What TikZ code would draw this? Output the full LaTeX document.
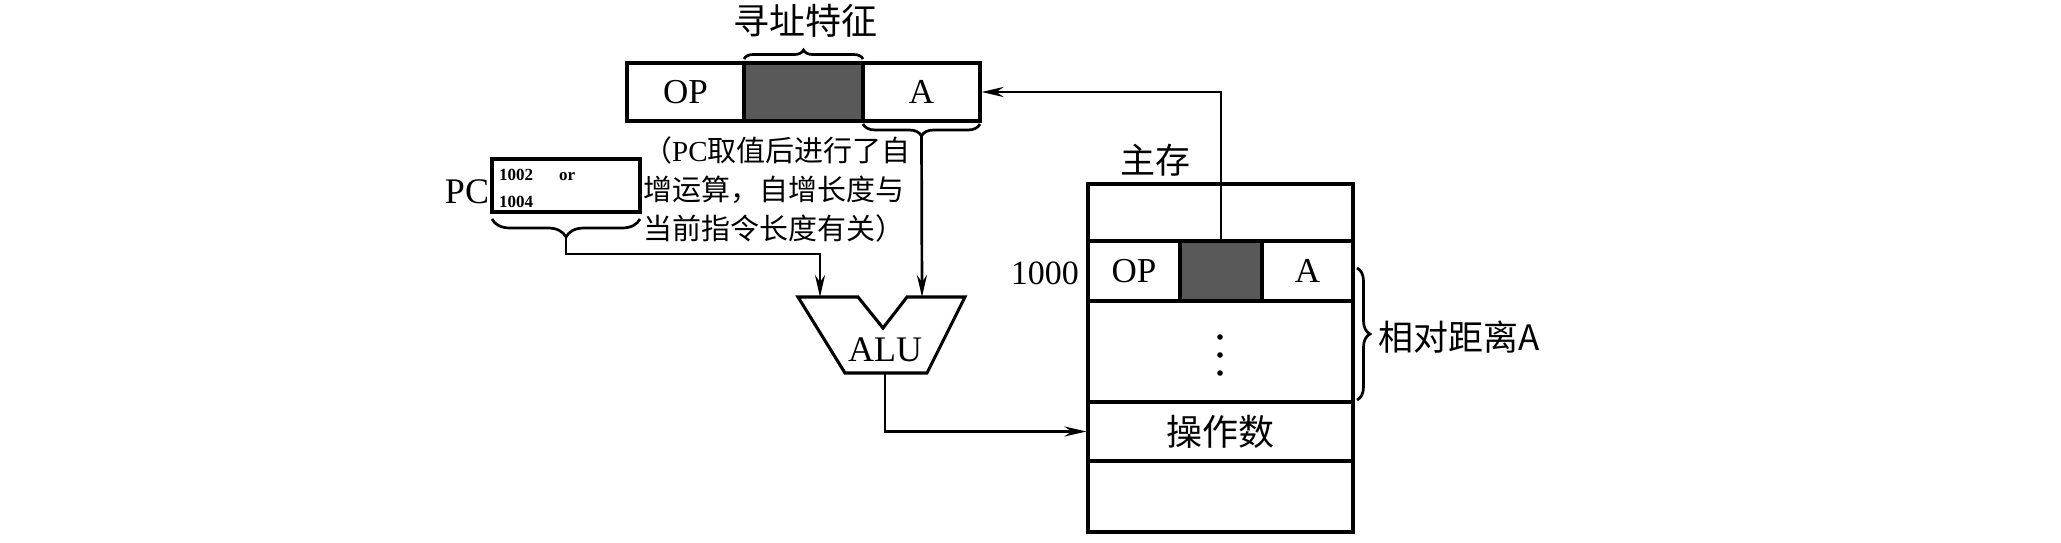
\documentclass[tikz,border=0pt]{standalone}
\usepackage{fontspec}
\setmainfont{Liberation Serif}
\newfontfamily\cjk{Noto Sans CJK SC}
\usetikzlibrary{arrows.meta,decorations.pathreplacing}
\newcommand{\myfs}[2]{\fontsize{#1}{#2}\selectfont}
\begin{document}
\begin{tikzpicture}[x=1pt,y=-1pt,
  box/.style={draw, line width=3.1pt, inner sep=0pt},
  dark/.style={box, fill=black!65},
  ln/.style={line width=2.7pt},
  arr/.style={line width=2.7pt, -{Stealth[length=22pt,width=10pt]}},
  brc/.style={decorate, decoration={brace, amplitude=#1}, line width=2.7pt},
  brc/.default=10pt,
  lbl/.style={inner sep=0pt}]
\useasboundingbox (0,0) rectangle (2061,542);

% instruction register
\node[box, minimum width=117pt, minimum height=58pt] (iop) at (685.5,92) {\myfs{35}{40}OP};
\node[dark, minimum width=119pt, minimum height=58pt] (iaddr) at (803.5,92) {};
\node[box, minimum width=117pt, minimum height=58pt] (iA) at (921.5,92) {\myfs{35}{40}A};
\node[lbl] (feat) at (805,21) {\cjk\myfs{36}{40}寻址特征};
\draw[brc=9pt] (744,59) -- (863,59);
\draw[brc=12pt] (980,124) -- (863,124);
\coordinate (tipA) at (921.5,136);

% PC
\node[box, minimum width=148pt, minimum height=53pt] (pc) at (566,185.5) {};
\node[lbl] (pclabel) at (467,192) {\myfs{36}{40}PC};
\node[lbl, anchor=north west, align=left, font=\bfseries\myfs{17}{27}] (pcval) at (499,169) {1002\hspace{26pt}or\\1004};
\draw[brc=18pt] (640,219) -- (492,219);
\coordinate (tipPC) at (566,237);
\coordinate (pcbend) at (820,254);

% note
\node[lbl, anchor=west, align=left, font=\myfs{29}{39}] (note) at (643,189)
  {{\cjk （}PC{\cjk 取值后进行了自}\\{\cjk 增运算，自增长度与}\\{\cjk 当前指令长度有关）}};

% ALU
\draw[line width=3.1pt, line join=miter] (798,297) -- (858,297) -- (883,328) -- (907,297) -- (965,297) -- (927,373) -- (845,373) -- cycle;
\node[lbl] (alu) at (885,350) {\myfs{36}{40}ALU};
\coordinate (aluL) at (820,297);
\coordinate (aluR) at (922,297);
\coordinate (aluOut) at (885,373);

% memory
\node[lbl] (mlabel) at (1155,160) {\cjk\myfs{35}{40}主存};
\node[box, minimum width=265pt, minimum height=57pt] (m0) at (1220.5,212.5) {};
\node[box, minimum width=92pt, minimum height=60pt] (mop) at (1134,271) {\myfs{35}{40}OP};
\node[dark, minimum width=82pt, minimum height=60pt] (maddr) at (1221,271) {};
\node[box, minimum width=91pt, minimum height=60pt] (mA) at (1307.5,271) {\myfs{35}{40}A};
\node[box, minimum width=265pt, minimum height=101pt] (m2) at (1220.5,351.5) {};
\node[box, minimum width=265pt, minimum height=59pt] (m3) at (1220.5,431.5) {\cjk\myfs{36}{40}操作数};
\node[box, minimum width=265pt, minimum height=71pt] (m4) at (1220.5,496.5) {};
\node[lbl, anchor=east] (addr) at (1079,273) {\myfs{34}{40}1000};
\fill (1220,337) circle (2.8pt);
\fill (1220,355) circle (2.8pt);
\fill (1220,373) circle (2.8pt);
\draw[brc=13pt] (1357,268) -- (1357,400);
\node[lbl, anchor=west] (dist) at (1378,337) {\cjk\myfs{35}{40}相对距离A};

% connectors
\draw[arr] (maddr.north) |- (iA.east);
\draw[arr] (tipA) -- (aluR);
\draw[arr] (tipPC) |- (pcbend) -- (aluL);
\draw[arr] (aluOut) |- (m3.west);
\end{tikzpicture}
\end{document}
